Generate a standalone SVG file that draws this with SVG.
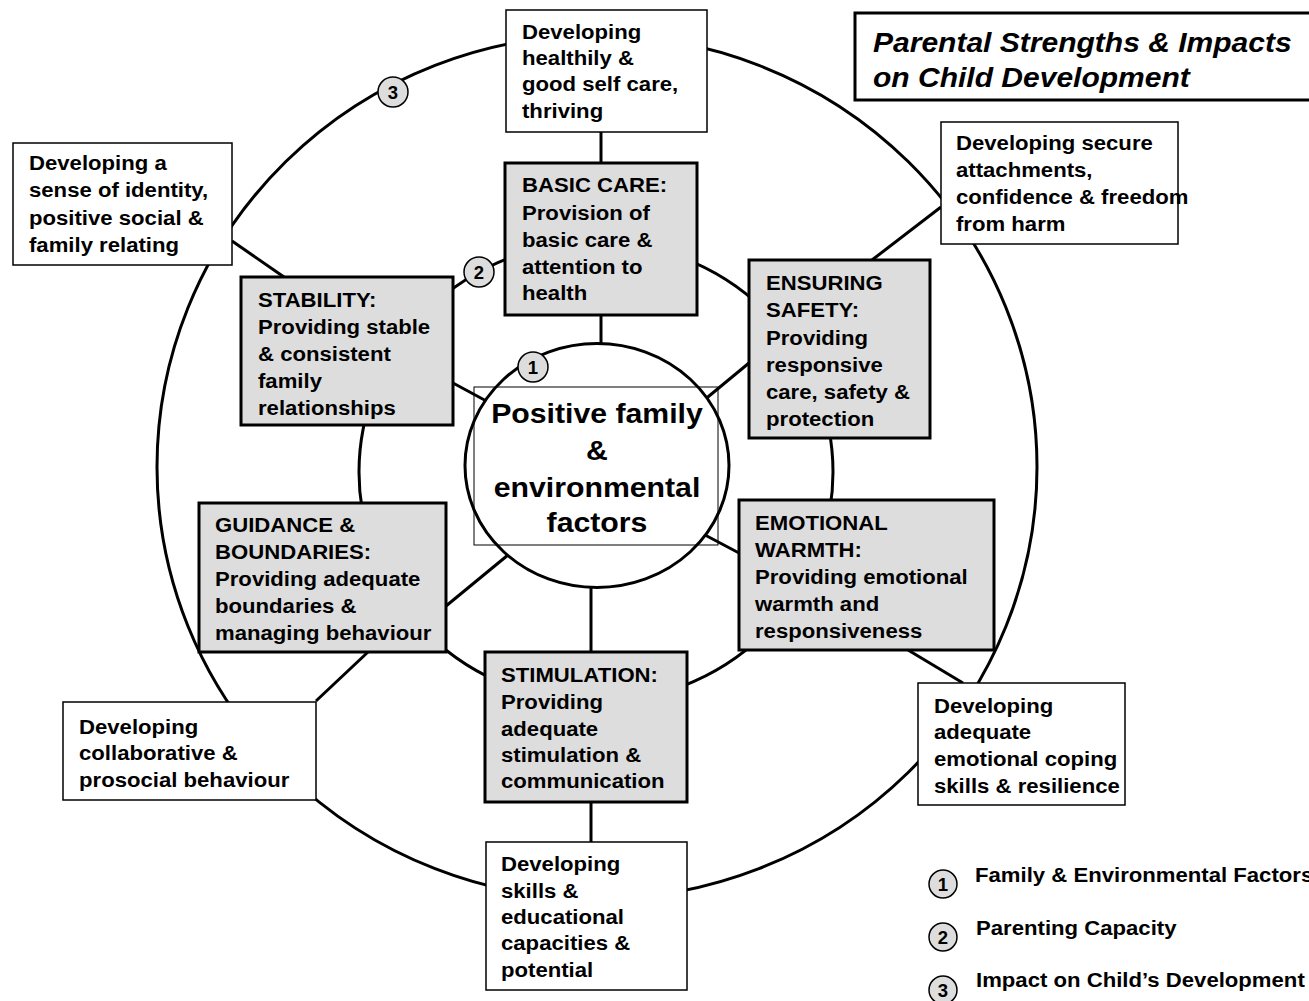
<svg xmlns="http://www.w3.org/2000/svg" width="1309" height="1001" viewBox="0 0 1309 1001">
<style>
text{font-family:"Liberation Sans",Arial,sans-serif;font-weight:bold;fill:#000}
.t{font-size:20.5px}
.c{font-size:28px;text-anchor:middle}
.ti{font-size:27.8px;font-style:italic}
.lg{font-size:20.5px}
.mk{font-size:18.5px;text-anchor:middle}
.ring{fill:none;stroke:#000;stroke-width:3}
.ln{stroke:#000;stroke-width:3;fill:none}
.g{fill:#dddddd;stroke:#000;stroke-width:3}
.w{fill:#fff;stroke:#000;stroke-width:1.5}
.m{fill:#dddddd;stroke:#000;stroke-width:1.5}
</style>
<rect width="1309" height="1001" fill="#fff"/>
<g id="rings">
<ellipse class="ring" cx="597" cy="467" rx="440" ry="432"/>
<ellipse class="ring" cx="596" cy="472" rx="237" ry="230"/>
</g>
<g id="connectors">
<line class="ln" x1="601" y1="132" x2="601" y2="163"/>
<line class="ln" x1="601" y1="315" x2="601" y2="345"/>
<line class="ln" x1="941" y1="207" x2="872" y2="260"/>
<line class="ln" x1="232" y1="241" x2="284" y2="277"/>
<line class="ln" x1="368" y1="652" x2="316" y2="701"/>
<line class="ln" x1="908" y1="650" x2="963" y2="683"/>
<line class="ln" x1="591" y1="802" x2="591" y2="842"/>
<line class="ln" x1="453" y1="383" x2="490" y2="403"/>
<line class="ln" x1="749" y1="363" x2="703" y2="401"/>
<line class="ln" x1="446" y1="606" x2="508" y2="555"/>
<line class="ln" x1="705" y1="535" x2="739" y2="553"/>
<line class="ln" x1="591" y1="652" x2="591" y2="585"/>
</g>
<g id="center">
<ellipse cx="597" cy="465.5" rx="132" ry="122" fill="#fff" stroke="#000" stroke-width="3"/>
<rect x="474" y="387" width="244" height="158" fill="none" stroke="#000" stroke-width="1"/>
<text class="c" transform="translate(597 0) scale(1.08 1)"><tspan x="0" y="423">Positive family</tspan><tspan x="0" y="460">&amp;</tspan><tspan x="0" y="497">environmental</tspan><tspan x="0" y="532">factors</tspan></text>
</g>
<g id="healthily">
<rect class="w" x="506" y="10" width="201" height="122"/>
<text class="t" transform="translate(522 0) scale(1.08 1)"><tspan x="0" y="39">Developing</tspan><tspan x="0" y="65">healthily &amp;</tspan><tspan x="0" y="91">good self care,</tspan><tspan x="0" y="118">thriving</tspan></text>
</g>
<g id="secure">
<rect class="w" x="941" y="122" width="237" height="122"/>
<text class="t" transform="translate(956 0) scale(1.08 1)"><tspan x="0" y="150">Developing secure</tspan><tspan x="0" y="177">attachments,</tspan><tspan x="0" y="204">confidence &amp; freedom</tspan><tspan x="0" y="231">from harm</tspan></text>
</g>
<g id="identity">
<rect class="w" x="13" y="143" width="219" height="122"/>
<text class="t" transform="translate(29 0) scale(1.08 1)"><tspan x="0" y="170">Developing a</tspan><tspan x="0" y="197">sense of identity,</tspan><tspan x="0" y="225">positive social &amp;</tspan><tspan x="0" y="252">family relating</tspan></text>
</g>
<g id="basic-care">
<rect class="g" x="505" y="163" width="192" height="152"/>
<text class="t" transform="translate(522 0) scale(1.08 1)"><tspan x="0" y="192">BASIC CARE:</tspan><tspan x="0" y="220">Provision of</tspan><tspan x="0" y="247">basic care &amp;</tspan><tspan x="0" y="274">attention to</tspan><tspan x="0" y="300">health</tspan></text>
</g>
<g id="stability">
<rect class="g" x="241" y="277" width="212" height="148"/>
<text class="t" transform="translate(258 0) scale(1.08 1)"><tspan x="0" y="307">STABILITY:</tspan><tspan x="0" y="334">Providing stable</tspan><tspan x="0" y="361">&amp; consistent</tspan><tspan x="0" y="388">family</tspan><tspan x="0" y="415">relationships</tspan></text>
</g>
<g id="safety">
<rect class="g" x="749" y="260" width="181" height="178"/>
<text class="t" transform="translate(766 0) scale(1.08 1)"><tspan x="0" y="290">ENSURING</tspan><tspan x="0" y="317">SAFETY:</tspan><tspan x="0" y="345">Providing</tspan><tspan x="0" y="372">responsive</tspan><tspan x="0" y="399">care, safety &amp;</tspan><tspan x="0" y="426">protection</tspan></text>
</g>
<g id="guidance">
<rect class="g" x="199" y="503" width="247" height="149"/>
<text class="t" transform="translate(215 0) scale(1.08 1)"><tspan x="0" y="532">GUIDANCE &amp;</tspan><tspan x="0" y="559">BOUNDARIES:</tspan><tspan x="0" y="586">Providing adequate</tspan><tspan x="0" y="613">boundaries &amp;</tspan><tspan x="0" y="640">managing behaviour</tspan></text>
</g>
<g id="warmth">
<rect class="g" x="739" y="500" width="255" height="150"/>
<text class="t" transform="translate(755 0) scale(1.08 1)"><tspan x="0" y="530">EMOTIONAL</tspan><tspan x="0" y="557">WARMTH:</tspan><tspan x="0" y="584">Providing emotional</tspan><tspan x="0" y="611">warmth and</tspan><tspan x="0" y="638">responsiveness</tspan></text>
</g>
<g id="stimulation">
<rect class="g" x="485" y="652" width="202" height="150"/>
<text class="t" transform="translate(501 0) scale(1.08 1)"><tspan x="0" y="682">STIMULATION:</tspan><tspan x="0" y="709">Providing</tspan><tspan x="0" y="736">adequate</tspan><tspan x="0" y="762">stimulation &amp;</tspan><tspan x="0" y="788">communication</tspan></text>
</g>
<g id="collaborative">
<rect class="w" x="63" y="702" width="253" height="98"/>
<text class="t" transform="translate(79 0) scale(1.08 1)"><tspan x="0" y="734">Developing</tspan><tspan x="0" y="760">collaborative &amp;</tspan><tspan x="0" y="787">prosocial behaviour</tspan></text>
</g>
<g id="coping">
<rect class="w" x="918" y="683" width="207" height="122"/>
<text class="t" transform="translate(934 0) scale(1.08 1)"><tspan x="0" y="713">Developing</tspan><tspan x="0" y="739">adequate</tspan><tspan x="0" y="766">emotional coping</tspan><tspan x="0" y="793">skills &amp; resilience</tspan></text>
</g>
<g id="skills">
<rect class="w" x="486" y="842" width="201" height="148"/>
<text class="t" transform="translate(501 0) scale(1.08 1)"><tspan x="0" y="871">Developing</tspan><tspan x="0" y="898">skills &amp;</tspan><tspan x="0" y="924">educational</tspan><tspan x="0" y="950">capacities &amp;</tspan><tspan x="0" y="977">potential</tspan></text>
</g>
<g id="markers">
<circle class="m" cx="533" cy="367" r="15"/><text class="mk" x="533" y="374">1</text>
<circle class="m" cx="479" cy="272" r="15"/><text class="mk" x="479" y="279">2</text>
<circle class="m" cx="393" cy="92" r="15"/><text class="mk" x="393" y="99">3</text>
</g>
<g id="title">
<rect x="855" y="13" width="470" height="87" fill="#fff" stroke="#000" stroke-width="3"/>
<text class="ti" transform="translate(873 0) scale(1.08 1)"><tspan x="0" y="52">Parental Strengths &amp; Impacts</tspan><tspan x="0" y="87">on Child Development</tspan></text>
</g>
<g id="legend">
<circle class="m" cx="943" cy="884" r="14"/><text class="mk" x="943" y="891">1</text>
<text class="lg" transform="translate(975 0) scale(1.08 1)" x="0" y="882">Family &amp; Environmental Factors</text>
<circle class="m" cx="943" cy="937" r="14"/><text class="mk" x="943" y="944">2</text>
<text class="lg" transform="translate(976 0) scale(1.08 1)" x="0" y="935">Parenting Capacity</text>
<circle class="m" cx="943" cy="990" r="14"/><text class="mk" x="943" y="997">3</text>
<text class="lg" transform="translate(976 0) scale(1.08 1)" x="0" y="987">Impact on Child’s Development</text>
</g>
</svg>
